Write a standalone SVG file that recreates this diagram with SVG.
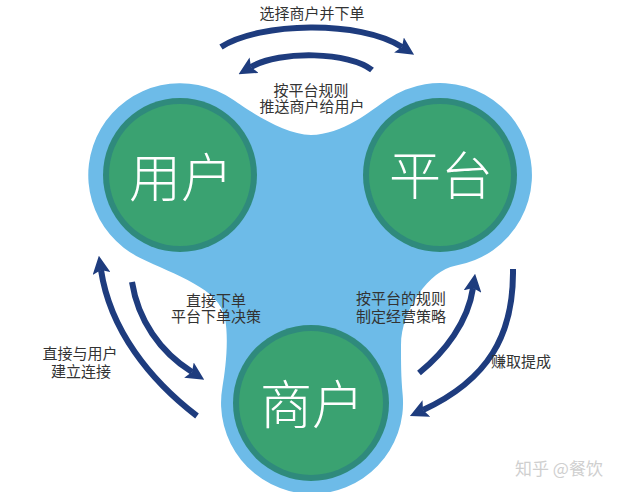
<svg xmlns="http://www.w3.org/2000/svg" width="633" height="492" viewBox="0 0 633 492">
<style>
.ring{fill:#2f8a7c}
.core{fill:#3aa271}
.big{fill:#fff;font-family:"Noto Sans CJK SC","Noto Sans",sans-serif;font-size:52px;font-weight:300;text-anchor:middle}
.lbl{fill:#333;font-family:"Noto Sans CJK SC","Noto Sans",sans-serif;font-size:15px;text-anchor:middle}
.arr{fill:none;stroke:#1e3c7e;stroke-width:6;stroke-linecap:butt;marker-end:url(#ah)}
.wm{fill:#cfcfcf;font-family:"Noto Sans CJK SC","Noto Sans",sans-serif;font-size:17px}
</style>
<defs>
<marker id="ah" viewBox="0 0 10 10" refX="2" refY="5" markerWidth="3" markerHeight="3" orient="auto" markerUnits="strokeWidth">
<path d="M0,0 L10,5 L0,10 L2,5 z" fill="#1e3c7e"/>
</marker>
</defs>
<rect width="633" height="492" fill="#fff"/>
<g id="blob">
<path fill="#6dbbe8" d="M139.7,257.7 A92 92 0 1 1 232.8,99.6 C249.2,111.1 285,135 311,135 C342,135 370.8,111 387.2,99.6 A92 92 0 1 1 455.2,265.7 C430,270 401,310 401,345 C401,365 401,375 402.7,395 A91 91 0 1 1 222.4,387.2 C225.5,369.5 229,340 225,318 C219.6,288.5 175.7,275.2 139.7,257.7 Z"/>
</g>
<g id="node-user">
<circle class="ring" cx="180" cy="175" r="77"/>
<circle class="core" cx="180" cy="175" r="71"/>
<text class="big" x="181" y="197">用户</text>
</g>
<g id="node-platform">
<circle class="ring" cx="440" cy="175" r="77"/>
<circle class="core" cx="440" cy="175" r="71"/>
<text class="big" x="441" y="195">平台</text>
</g>
<g id="node-merchant">
<circle class="ring" cx="311" cy="403" r="78"/>
<circle class="core" cx="311" cy="403" r="72"/>
<text class="big" x="312" y="424">商户</text>
</g>
<g id="connectors">
<path class="arr" d="M221,47 C260,22 360,20 402,47"/>
<path class="arr" d="M372,70 C350,52 280,50 251,67"/>
<path class="arr" d="M197,416 C150,380 110,330 101,270"/>
<path class="arr" d="M132,282 C138,320 160,352 192,372"/>
<path class="arr" d="M419,373 C445,352 468,322 473,288"/>
<path class="arr" d="M513,269 C514,335 488,380 423,410"/>
</g>
<g id="labels">
<text class="lbl" x="312" y="19">选择商户并下单</text>
<text class="lbl" x="311" y="96">按平台规则</text>
<text class="lbl" x="312" y="112">推送商户给用户</text>
<text class="lbl" x="216" y="306">直接下单</text>
<text class="lbl" x="216" y="322">平台下单决策</text>
<text class="lbl" x="80" y="359">直接与用户</text>
<text class="lbl" x="81" y="377">建立连接</text>
<text class="lbl" x="401" y="304">按平台的规则</text>
<text class="lbl" x="401" y="322">制定经营策略</text>
<text class="lbl" x="521" y="367">赚取提成</text>
</g>
<text class="wm" x="515" y="475">知乎 @餐饮</text>
</svg>
